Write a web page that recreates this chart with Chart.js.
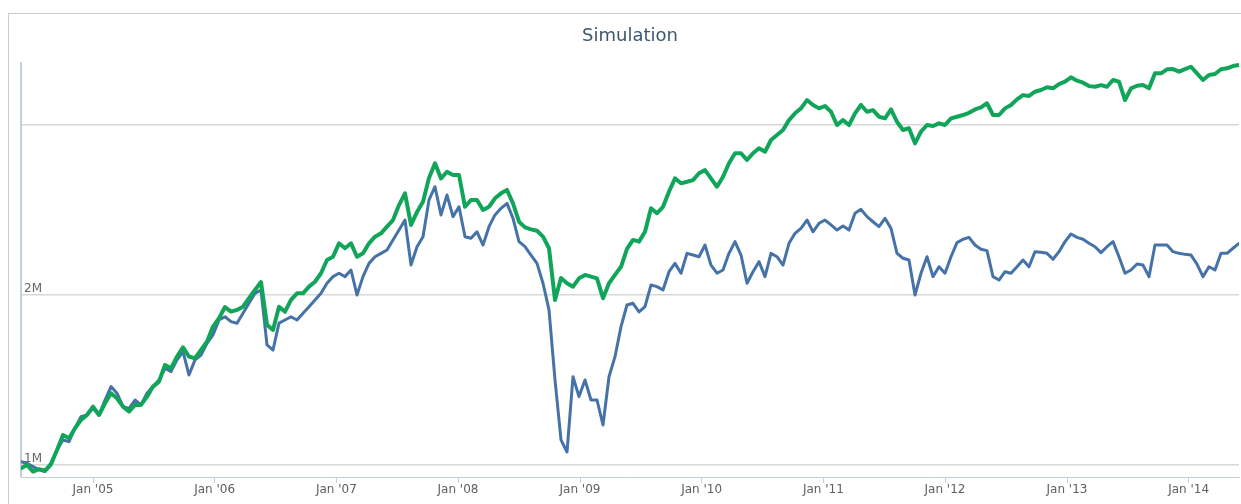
<!DOCTYPE html>
<html>
<head>
<meta charset="utf-8">
<title>Simulation</title>
<script src="https://cdn.jsdelivr.net/npm/chart.js@4.4.1/dist/chart.umd.min.js"></script>
<style>
html, body { margin: 0; padding: 0; background: #fff; overflow: hidden; width: 1241px; height: 504px; }
#frame { position: absolute; left: 8px; top: 13px; width: 1280px; height: 520px; border: 1px solid #cccccc; }
#chart { position: absolute; left: 0; top: 0; }
</style>
</head>
<body>
<div id="frame"></div>
<canvas id="chart" width="1260" height="504"></canvas>
<script>
// first sample and spacing between samples (days)
var startDate = Date.UTC(2004, 4, 30);
var stepDays = 18;

// x axis ticks: first of January each year
var tickYears = [2005, 2006, 2007, 2008, 2009, 2010, 2011, 2012, 2013, 2014];

// y axis: values in millions
var yTickValues = [1, 2, 3];
var yTickLabels = ["1M", "2M", ""];

// green series (millions)
var strategyValues = [
  0.981, 1.000, 0.961, 0.975, 0.966, 1.006, 1.088, 1.176, 1.157, 1.216,
  1.265, 1.294, 1.343, 1.294, 1.363, 1.422, 1.392, 1.343, 1.314, 1.353,
  1.353, 1.402, 1.461, 1.490, 1.588, 1.569, 1.637, 1.692, 1.637, 1.628,
  1.676, 1.725, 1.814, 1.863, 1.929, 1.902, 1.912, 1.931, 1.981, 2.029,
  2.076, 1.824, 1.794, 1.931, 1.902, 1.971, 2.010, 2.010, 2.049, 2.078,
  2.128, 2.206, 2.225, 2.304, 2.275, 2.304, 2.225, 2.245, 2.304, 2.343,
  2.363, 2.402, 2.441, 2.529, 2.598, 2.412, 2.488, 2.549, 2.688, 2.775,
  2.686, 2.725, 2.706, 2.706, 2.519, 2.559, 2.559, 2.500, 2.519, 2.569,
  2.598, 2.618, 2.539, 2.431, 2.398, 2.386, 2.378, 2.343, 2.275, 1.971,
  2.100, 2.069, 2.049, 2.098, 2.118, 2.108, 2.098, 1.981, 2.069, 2.118,
  2.166, 2.271, 2.324, 2.314, 2.372, 2.510, 2.481, 2.519, 2.608, 2.686,
  2.657, 2.666, 2.676, 2.716, 2.735, 2.686, 2.637, 2.696, 2.775, 2.834,
  2.834, 2.794, 2.834, 2.863, 2.843, 2.912, 2.941, 2.971, 3.029, 3.069,
  3.098, 3.147, 3.118, 3.098, 3.112, 3.078, 3.000, 3.029, 3.000, 3.069,
  3.118, 3.078, 3.088, 3.049, 3.039, 3.092, 3.019, 2.971, 2.981, 2.892,
  2.961, 3.000, 2.994, 3.010, 3.000, 3.039, 3.049, 3.059, 3.072, 3.092,
  3.104, 3.128, 3.059, 3.059, 3.098, 3.118, 3.151, 3.176, 3.171, 3.196,
  3.206, 3.222, 3.216, 3.241, 3.255, 3.281, 3.261, 3.249, 3.229, 3.225,
  3.235, 3.225, 3.265, 3.255, 3.147, 3.216, 3.231, 3.235, 3.216, 3.304,
  3.304, 3.328, 3.329, 3.314, 3.329, 3.343, 3.304, 3.265, 3.294, 3.300,
  3.328, 3.334, 3.347, 3.353
];

// blue series (millions)
var benchmarkValues = [
  1.019, 1.010, 0.990, 0.971, 0.961, 1.000, 1.088, 1.147, 1.137, 1.216,
  1.284, 1.294, 1.333, 1.294, 1.382, 1.461, 1.422, 1.343, 1.333, 1.382,
  1.353, 1.422, 1.461, 1.500, 1.569, 1.549, 1.618, 1.666, 1.529, 1.618,
  1.647, 1.716, 1.765, 1.853, 1.872, 1.843, 1.834, 1.892, 1.951, 2.010,
  2.029, 1.706, 1.676, 1.834, 1.853, 1.872, 1.853, 1.892, 1.931, 1.971,
  2.010, 2.069, 2.108, 2.128, 2.108, 2.147, 2.000, 2.108, 2.186, 2.225,
  2.245, 2.265, 2.324, 2.382, 2.441, 2.176, 2.284, 2.343, 2.559, 2.637,
  2.471, 2.588, 2.461, 2.519, 2.343, 2.334, 2.372, 2.294, 2.402, 2.471,
  2.510, 2.539, 2.451, 2.314, 2.284, 2.235, 2.186, 2.069, 1.912, 1.500,
  1.147, 1.076, 1.519, 1.402, 1.500, 1.382, 1.382, 1.235, 1.519, 1.637,
  1.814, 1.941, 1.951, 1.900, 1.931, 2.059, 2.049, 2.029, 2.137, 2.186,
  2.128, 2.245, 2.235, 2.225, 2.294, 2.176, 2.128, 2.147, 2.245, 2.314,
  2.235, 2.069, 2.137, 2.196, 2.108, 2.245, 2.225, 2.176, 2.304, 2.363,
  2.392, 2.441, 2.372, 2.422, 2.441, 2.412, 2.382, 2.406, 2.382, 2.481,
  2.504, 2.461, 2.431, 2.402, 2.451, 2.392, 2.245, 2.216, 2.206, 2.000,
  2.128, 2.225, 2.108, 2.166, 2.128, 2.225, 2.308, 2.328, 2.339, 2.294,
  2.269, 2.261, 2.108, 2.088, 2.137, 2.128, 2.166, 2.206, 2.166, 2.255,
  2.251, 2.245, 2.210, 2.255, 2.314, 2.359, 2.339, 2.328, 2.304, 2.284,
  2.249, 2.284, 2.314, 2.225, 2.128, 2.147, 2.182, 2.176, 2.108, 2.294,
  2.294, 2.294, 2.255, 2.245, 2.239, 2.235, 2.182, 2.108, 2.166, 2.147,
  2.245, 2.245, 2.275, 2.304
];

var dayMs = 24 * 3600 * 1000;

function toPoints(values) {
  var pts = [];
  for (let i = 0; i < values.length; i++) {
    pts.push({ x: startDate + i * stepDays * dayMs, y: values[i] });
  }
  return pts;
}

var lastX = startDate + (strategyValues.length - 1) * stepDays * dayMs;

// "1M" / "2M" sit just above their grid line, under the lines
var yLabelPlugin = {
  id: "yLabels",
  beforeDatasetsDraw: function (chart) {
    var ctx = chart.ctx;
    var yScale = chart.scales.y;
    ctx.save();
    ctx.font = "12px 'DejaVu Sans'";
    ctx.fillStyle = "#666666";
    ctx.textAlign = "left";
    ctx.textBaseline = "alphabetic";
    for (let i = 0; i < yTickValues.length; i++) {
      ctx.fillText(yTickLabels[i], chart.chartArea.left + 3, yScale.getPixelForValue(yTickValues[i]) - 3);
    }
    ctx.restore();
  }
};

Chart.defaults.font.family = "'DejaVu Sans', sans-serif";

new Chart(document.getElementById("chart"), {
  type: "line",
  data: {
    datasets: [
      {
        data: toPoints(strategyValues),
        borderColor: "#11a55a",
        borderWidth: 4,
        pointRadius: 0,
        tension: 0,
        borderJoinStyle: "round",
        borderCapStyle: "round"
      },
      {
        data: toPoints(benchmarkValues),
        borderColor: "#4572a7",
        borderWidth: 3,
        pointRadius: 0,
        tension: 0,
        borderJoinStyle: "round",
        borderCapStyle: "round"
      }
    ]
  },
  options: {
    responsive: false,
    animation: false,
    events: [],
    layout: { padding: { left: 21, right: 21, top: 0, bottom: 0 } },
    plugins: {
      legend: { display: false },
      tooltip: { enabled: false },
      title: {
        display: true,
        text: "Simulation",
        color: "#3e576f",
        font: { size: 18, weight: "normal" },
        padding: { top: 26, bottom: 15.4 }
      }
    },
    scales: {
      x: {
        type: "linear",
        min: startDate,
        max: lastX,
        afterFit: function (scale) { scale.height = 27; },
        afterBuildTicks: function (scale) {
          scale.ticks = tickYears.map(function (yr) { return { value: Date.UTC(yr, 0, 1) }; });
        },
        grid: { drawOnChartArea: false, drawTicks: true, tickLength: 6, color: "#c0d0e0" },
        border: { display: true, color: "#c0d0e0", width: 1 },
        ticks: {
          autoSkip: false,
          maxRotation: 0,
          padding: 0,
          color: "#606060",
          font: { size: 12 },
          callback: function (value) {
            var yr = new Date(value).getUTCFullYear();
            return "Jan '" + String(yr).slice(2);
          }
        }
      },
      y: {
        type: "linear",
        min: 0.929,
        max: 3.365,
        afterFit: function (scale) { scale.width = 0; },
        afterBuildTicks: function (scale) {
          scale.ticks = yTickValues.map(function (v) { return { value: v }; });
        },
        grid: { color: "#d8d8d8", lineWidth: 1.5, drawTicks: false },
        border: { display: true, color: "#c0d0e0", width: 2 },
        ticks: { display: false }
      }
    }
  },
  plugins: [yLabelPlugin]
});
</script>
</body>
</html>
